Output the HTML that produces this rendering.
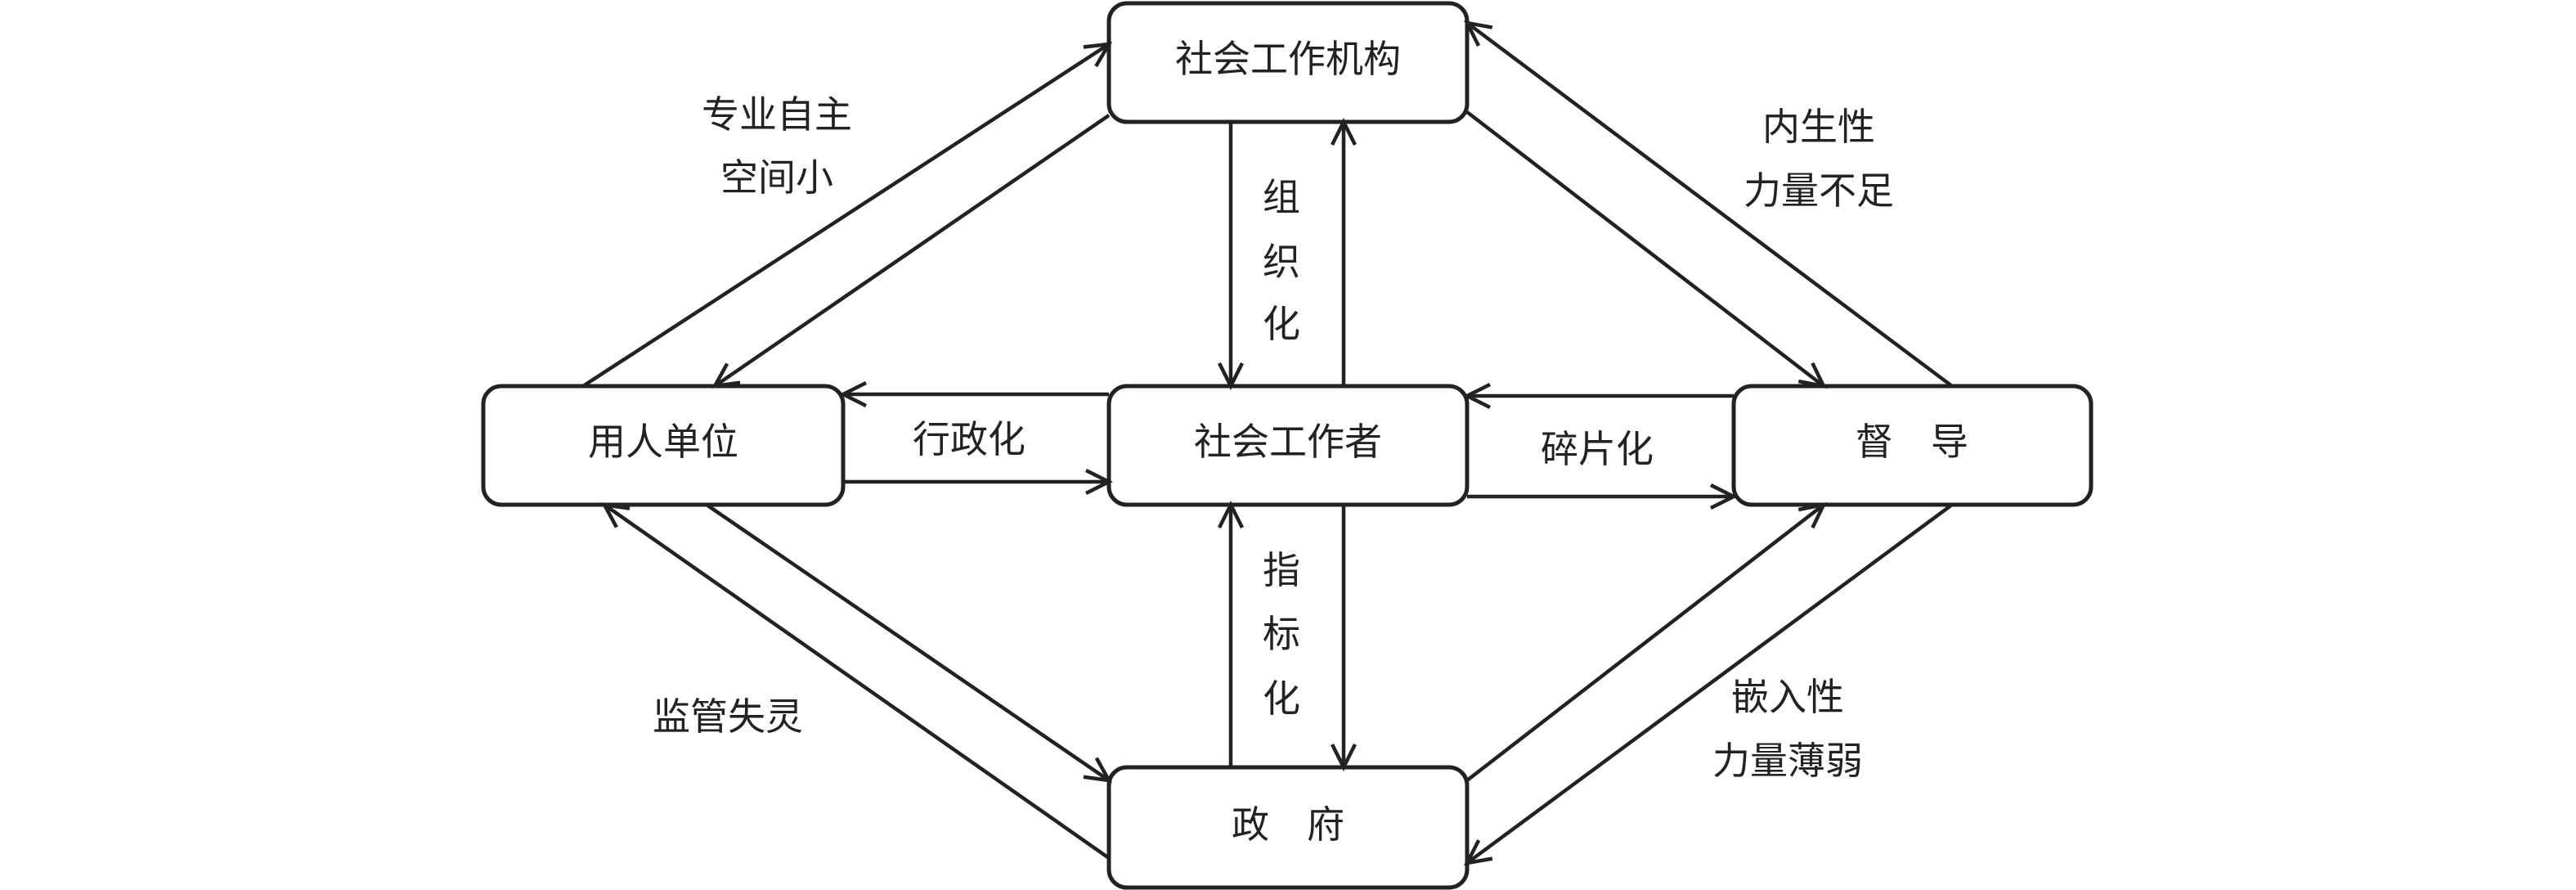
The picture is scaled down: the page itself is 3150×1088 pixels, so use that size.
<!DOCTYPE html>
<html><head><meta charset="utf-8"><style>
html,body{margin:0;padding:0;background:#fff;}
svg{display:block}
text{font-family:"Liberation Sans","Noto Sans CJK SC",sans-serif;font-size:46px;fill:#222;text-anchor:middle;dominant-baseline:central}
</style></head><body>
<svg width="3150" height="1088" viewBox="0 0 3150 1088" xmlns="http://www.w3.org/2000/svg">
<defs>
<marker id="a" markerUnits="userSpaceOnUse" markerWidth="40" markerHeight="40" refX="34" refY="20" orient="auto">
<path d="M6,6 L34,20 L6,34" fill="none" stroke="#222" stroke-width="4.5"/>
</marker>
</defs>
<g fill="#fff" stroke="#222" stroke-width="5">
<rect x="1356" y="4" width="438" height="145" rx="22"/>
<rect x="591" y="472" width="440" height="145" rx="22"/>
<rect x="1356" y="472" width="438" height="145" rx="22"/>
<rect x="2120" y="472" width="437" height="145" rx="22"/>
<rect x="1356" y="938" width="438" height="147" rx="22"/>
</g>
<g stroke="#222" stroke-width="4.5" fill="none" marker-end="url(#a)">
<line x1="713" y1="472" x2="1356" y2="54"/>
<line x1="1356" y1="141" x2="874" y2="472"/>
<line x1="1505" y1="149" x2="1505" y2="472"/>
<line x1="1643" y1="472" x2="1643" y2="149"/>
<line x1="1356" y1="482" x2="1031" y2="482"/>
<line x1="1031" y1="589" x2="1356" y2="589"/>
<line x1="2120" y1="484" x2="1794" y2="484"/>
<line x1="1794" y1="607" x2="2120" y2="607"/>
<line x1="1794" y1="137" x2="2230" y2="472"/>
<line x1="2387" y1="472" x2="1794" y2="28"/>
<line x1="1505" y1="938" x2="1505" y2="617"/>
<line x1="1643" y1="617" x2="1643" y2="938"/>
<line x1="1794" y1="954" x2="2230" y2="617"/>
<line x1="2387" y1="617" x2="1794" y2="1055"/>
<line x1="864" y1="617" x2="1356" y2="954"/>
<line x1="1356" y1="1049" x2="739" y2="617"/>
</g>
<text x="1575" y="72">社会工作机构</text>
<text x="811" y="540">用人单位</text>
<text x="1575" y="540">社会工作者</text>
<text x="2338" y="540">督　导</text>
<text x="1575" y="1008">政　府</text>
<text x="950" y="140">专业自主</text>
<text x="950" y="217">空间小</text>
<text x="1567" y="241">组</text>
<text x="1567" y="320">织</text>
<text x="1567" y="396">化</text>
<text x="1185" y="537">行政化</text>
<text x="1953" y="549">碎片化</text>
<text x="2224" y="155">内生性</text>
<text x="2224" y="233">力量不足</text>
<text x="1567" y="697">指</text>
<text x="1567" y="775">标</text>
<text x="1567" y="854">化</text>
<text x="2186" y="852">嵌入性</text>
<text x="2186" y="930">力量薄弱</text>
<text x="890" y="876">监管失灵</text>
</svg>
</body></html>
